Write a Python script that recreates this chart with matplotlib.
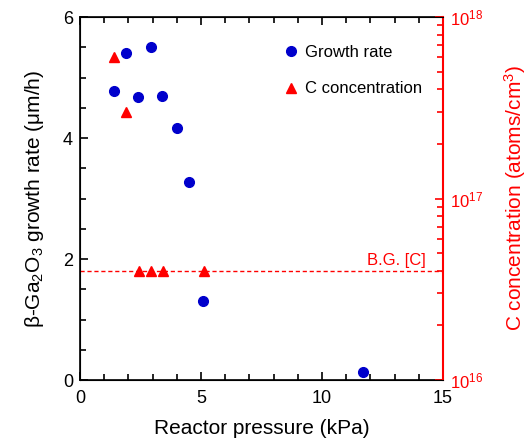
import matplotlib
matplotlib.use('Agg')
import matplotlib.pyplot as plt
from matplotlib.ticker import MultipleLocator, LogLocator, NullFormatter

plt.rcParams['font.family'] = ['Liberation Sans', 'DejaVu Sans']
plt.rcParams['mathtext.fontset'] = 'custom'
plt.rcParams['mathtext.rm'] = 'Liberation Sans'
plt.rcParams['mathtext.it'] = 'Liberation Sans:italic'

# growth rate data (kPa, um/h)
gr_pressure = [1.40, 1.90, 2.92, 2.40, 3.40, 4.02, 4.50, 5.10, 11.70]
gr_rate = [4.78, 5.41, 5.50, 4.67, 4.69, 4.16, 3.28, 1.31, 0.14]

# carbon concentration data (kPa, atoms/cm3)
c_pressure = [1.40, 1.90, 2.42, 2.92, 3.41, 5.12]
c_conc = [6.0e17, 3.0e17, 4.0e16, 4.0e16, 4.0e16, 4.0e16]

bg_conc = 4.0e16

blue = '#0000CC'
red = '#FF0000'

fig = plt.figure(figsize=(5.28, 4.43), dpi=100)
ax = fig.add_axes([0.1515, 0.1422, 0.6875, 0.8194])
ax2 = ax.twinx()

h1, = ax.plot(gr_pressure, gr_rate, 'o', color=blue, markersize=7, linestyle='none',
              label='Growth rate', zorder=3)
h2, = ax2.plot(c_pressure, c_conc, '^', color=red, markersize=7.5, linestyle='none',
               label='C concentration', zorder=3)
ax2.axhline(bg_conc, color=red, linestyle='--', linewidth=1, dashes=(3, 2))
ax2.text(14.3, bg_conc * 1.04, 'B.G. [C]', color=red, fontsize=12, ha='right', va='bottom')

ax.set_xlim(0, 15)
ax.set_ylim(0, 6)
ax2.set_yscale('log')
ax2.set_ylim(1e16, 1e18)

ax.xaxis.set_major_locator(MultipleLocator(5))
ax.xaxis.set_minor_locator(MultipleLocator(1))
ax.yaxis.set_major_locator(MultipleLocator(2))
ax.yaxis.set_minor_locator(MultipleLocator(0.5))
ax2.yaxis.set_major_locator(LogLocator(base=10))
ax2.yaxis.set_minor_locator(LogLocator(base=10, subs=range(2, 10)))
ax2.yaxis.set_minor_formatter(NullFormatter())

ax.tick_params(which='both', direction='in', top=True, labelsize=13, width=1.2)
ax.tick_params(which='major', length=6)
ax.tick_params(which='minor', length=4)
ax.tick_params(axis='x', pad=7)
ax.tick_params(axis='y', right=False, pad=5)
ax2.tick_params(which='both', direction='in', colors=red, labelsize=12, width=1.2, pad=5)
ax2.tick_params(which='major', length=6)
ax2.tick_params(which='minor', length=4)

for s in ['left', 'bottom', 'top']:
    ax.spines[s].set_linewidth(1.2)
ax2.spines['right'].set_color(red)
ax2.spines['right'].set_linewidth(1.5)
ax.spines['right'].set_visible(False)

ax.set_xlabel('Reactor pressure (kPa)', fontsize=15, labelpad=9)
ax.set_ylabel('β-Ga$_2$O$_3$ growth rate (μm/h)', fontsize=15, labelpad=12)
ax2.set_ylabel('C concentration (atoms/cm$^3$)', fontsize=15, color=red, labelpad=14)

ax2.legend(handles=[h1, h2], loc='upper right', bbox_to_anchor=(0.985, 0.965),
           frameon=False, fontsize=12, handletextpad=0.25, labelspacing=1.3,
           handlelength=1.2)

plt.savefig('out.png', dpi=100)
